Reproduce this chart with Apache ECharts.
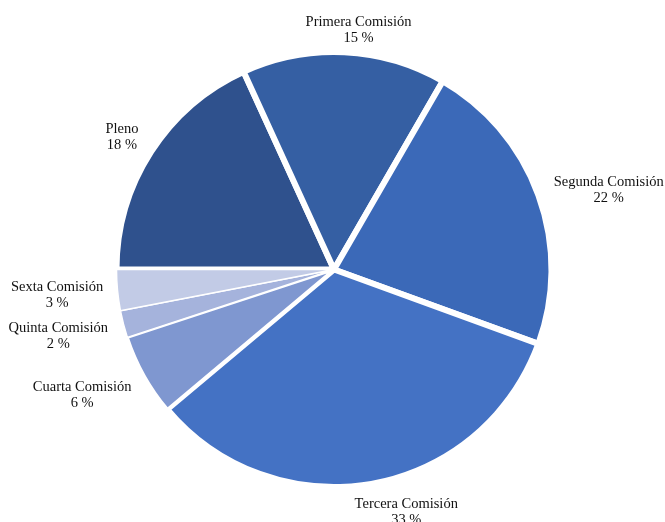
<!DOCTYPE html>
<html>
<head>
<meta charset="utf-8">
<script src="https://cdn.jsdelivr.net/npm/echarts@6/dist/echarts.min.js"></script>
<style>
html,body{margin:0;padding:0;background:#fff;}
#c{width:665px;height:522px;}
</style>
</head>
<body>
<div id="c"></div>
<script>
const categories = ['Pleno', 'Primera Comisión', 'Segunda Comisión', 'Tercera Comisión', 'Cuarta Comisión', 'Quinta Comisión', 'Sexta Comisión'];
const values = [18, 15, 22, 33, 6, 2, 3];

const colors = ['#2F518D', '#355FA3', '#3B69B8', '#4472C4', '#7F97D0', '#A5B3DC', '#C2CBE6'];
const borderWidths = [6, 6, 6, 6, 3, 1.5, 1.5];
const labelNudge = [[-3, 2], [11, 8], [5, 6], [23, -2], [-6, 5], [-3, 4], [0, 2.5]];

const CX = 334, CY = 269.5, R = 217.5;
const total = values.reduce((a, b) => a + b, 0);

const chart = echarts.init(document.getElementById('c'), null, {renderer: 'canvas'});
chart.setOption({
  animation: false,
  backgroundColor: '#fff',
  series: [{
    type: 'pie',
    center: [CX, CY],
    radius: [0, R],
    startAngle: 180,
    clockwise: true,
    avoidLabelOverlap: false,
    label: {
      show: true,
      position: 'outside',
      formatter: '{b}\n{c} %',
      fontFamily: 'Liberation Serif',
      fontSize: 14.5,
      lineHeight: 16,
      color: '#111'
    },
    labelLine: {show: false, length: 0, length2: 0},
    emphasis: {disabled: true},
    labelLayout: function (p) {
      const i = p.dataIndex;
      let before = 0;
      for (let j = 0; j < i; j++) before += values[j];
      const mid = (before + values[i] / 2) / total;
      const ang = Math.PI - mid * 2 * Math.PI;
      const dx = Math.cos(ang), dy = -Math.sin(ang);
      const px = CX + 217 * dx, py = CY + 217 * dy;
      const w = p.labelRect.width, h = p.labelRect.height;
      const g = 15;
      return {
        x: px + dx * g + dx * w / 2 + labelNudge[i][0],
        y: py + dy * g + dy * h / 2 + labelNudge[i][1],
        align: 'center',
        verticalAlign: 'middle'
      };
    },
    data: categories.map((name, i) => ({
      name: name,
      value: values[i],
      itemStyle: {color: colors[i], borderColor: '#fff', borderWidth: borderWidths[i]}
    }))
  }]
});
</script>
</body>
</html>
